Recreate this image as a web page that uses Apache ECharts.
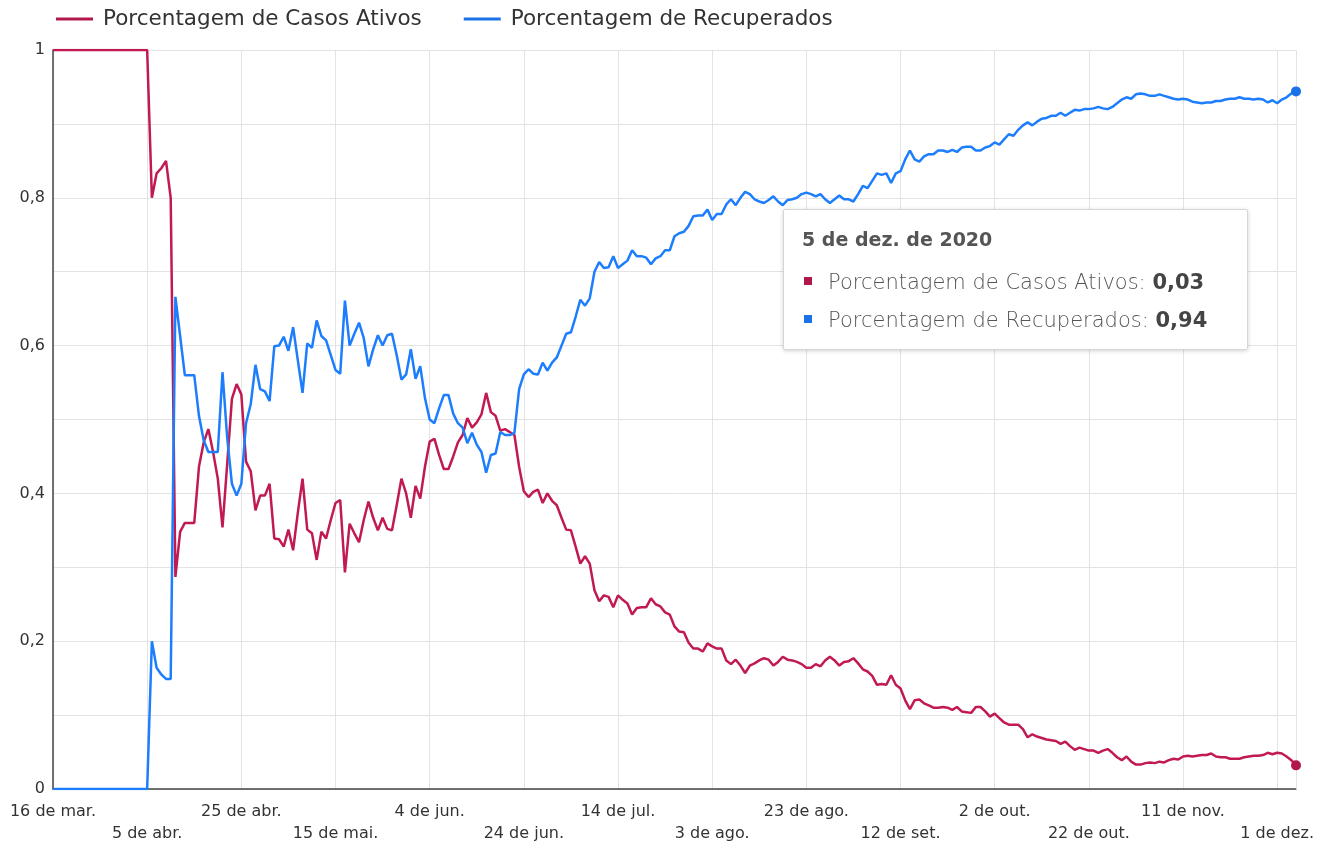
<!DOCTYPE html>
<html>
<head>
<meta charset="utf-8">
<title>Casos ativos e recuperados</title>
<script src="https://cdn.jsdelivr.net/npm/echarts@6/dist/echarts.min.js"></script>
<style>
  html, body { margin: 0; padding: 0; background: #fff; }
  #chart { width: 1327px; height: 845px; }
</style>
</head>
<body>
<div id="chart"></div>
<script>
// daily values from 16 mar. 2020 to 5 dez. 2020
const monthAbbr = ['jan.', 'fev.', 'mar.', 'abr.', 'mai.', 'jun.', 'jul.', 'ago.', 'set.', 'out.', 'nov.', 'dez.'];

const ativos = [
  1, 1, 1, 1, 1, 1, 1, 1, 1, 1, 1, 1, 1, 1, 1, 1, 1, 1, 1, 1,
  1, 0.80, 0.833, 0.84, 0.85, 0.80, 0.287, 0.348, 0.36, 0.36,
  0.36, 0.436, 0.469, 0.487, 0.456, 0.42, 0.354, 0.44, 0.528, 0.548,
  0.534, 0.443, 0.43, 0.377, 0.397, 0.397, 0.413, 0.339, 0.338, 0.328,
  0.351, 0.323, 0.374, 0.42, 0.351, 0.346, 0.31, 0.348, 0.339, 0.364,
  0.387, 0.391, 0.293, 0.359, 0.346, 0.334, 0.364, 0.389, 0.367, 0.35,
  0.367, 0.352, 0.35, 0.384, 0.42, 0.4, 0.367, 0.41, 0.393, 0.436,
  0.47, 0.474, 0.452, 0.433, 0.433, 0.45, 0.469, 0.479, 0.502, 0.489,
  0.496, 0.507, 0.536, 0.51, 0.505, 0.485, 0.487, 0.483, 0.479, 0.436,
  0.403, 0.395, 0.402, 0.405, 0.387, 0.4, 0.39, 0.384, 0.367, 0.351,
  0.35, 0.328, 0.305, 0.315, 0.305, 0.269, 0.254, 0.262, 0.26, 0.246,
  0.262, 0.256, 0.251, 0.236, 0.245, 0.246, 0.246, 0.258, 0.25, 0.247,
  0.239, 0.236, 0.22, 0.213, 0.212, 0.198, 0.19, 0.19, 0.186, 0.197,
  0.193, 0.19, 0.19, 0.174, 0.169, 0.175, 0.167, 0.157, 0.167, 0.17,
  0.174, 0.177, 0.175, 0.167, 0.172, 0.179, 0.175, 0.174, 0.172, 0.169,
  0.164, 0.164, 0.169, 0.166, 0.174, 0.179, 0.174, 0.167, 0.172, 0.173,
  0.177, 0.17, 0.162, 0.159, 0.153, 0.141, 0.142, 0.141, 0.154, 0.141,
  0.136, 0.12, 0.108, 0.12, 0.121, 0.116, 0.113, 0.11, 0.11, 0.111,
  0.11, 0.107, 0.111, 0.105, 0.104, 0.103, 0.111, 0.111, 0.105, 0.098,
  0.102, 0.096, 0.09, 0.087, 0.087, 0.087, 0.081, 0.07, 0.074, 0.071,
  0.069, 0.067, 0.066, 0.065, 0.061, 0.064, 0.058, 0.053, 0.056, 0.054,
  0.052, 0.052, 0.049, 0.052, 0.054, 0.049, 0.043, 0.039, 0.044, 0.037,
  0.033, 0.033, 0.035, 0.036, 0.035, 0.037, 0.036, 0.039, 0.041, 0.04,
  0.044, 0.045, 0.044, 0.045, 0.046, 0.046, 0.048, 0.044, 0.043, 0.043,
  0.041, 0.041, 0.041, 0.043, 0.044, 0.045, 0.045, 0.046, 0.049, 0.047,
  0.049, 0.048, 0.044, 0.039, 0.032
];

const recuperados = [
  0, 0, 0, 0, 0, 0, 0, 0, 0, 0, 0, 0, 0, 0, 0, 0, 0, 0, 0, 0,
  0, 0.20, 0.164, 0.155, 0.149, 0.149, 0.666, 0.613, 0.56, 0.56,
  0.56, 0.505, 0.472, 0.456, 0.456, 0.456, 0.564, 0.475, 0.413, 0.397,
  0.413, 0.495, 0.521, 0.574, 0.541, 0.538, 0.525, 0.599, 0.6, 0.612,
  0.593, 0.625, 0.58, 0.536, 0.603, 0.597, 0.634, 0.613, 0.607, 0.587,
  0.567, 0.562, 0.661, 0.6, 0.616, 0.631, 0.61, 0.572, 0.595, 0.614,
  0.6, 0.614, 0.616, 0.587, 0.554, 0.561, 0.595, 0.555, 0.572, 0.529,
  0.5, 0.495, 0.515, 0.533, 0.533, 0.508, 0.495, 0.489, 0.468, 0.482,
  0.466, 0.456, 0.428, 0.452, 0.454, 0.483, 0.479, 0.479, 0.482, 0.541,
  0.561, 0.568, 0.562, 0.561, 0.577, 0.566, 0.577, 0.584, 0.6, 0.616,
  0.618, 0.639, 0.662, 0.654, 0.664, 0.7, 0.713, 0.705, 0.706, 0.721,
  0.705, 0.71, 0.715, 0.729, 0.721, 0.721, 0.719, 0.71, 0.718, 0.721,
  0.729, 0.729, 0.748, 0.752, 0.754, 0.762, 0.775, 0.776, 0.776, 0.784,
  0.77, 0.778, 0.778, 0.791, 0.798, 0.79, 0.8, 0.808, 0.805, 0.798,
  0.795, 0.793, 0.797, 0.802, 0.795, 0.79, 0.797, 0.798, 0.8, 0.805,
  0.807, 0.805, 0.802, 0.805, 0.798, 0.793, 0.798, 0.803, 0.798, 0.798,
  0.795, 0.805, 0.816, 0.813, 0.823, 0.833, 0.831, 0.833, 0.82, 0.833,
  0.836, 0.852, 0.864, 0.852, 0.849, 0.856, 0.859, 0.859, 0.864, 0.864,
  0.862, 0.865, 0.862, 0.868, 0.869, 0.869, 0.864, 0.864, 0.868, 0.87,
  0.875, 0.872, 0.879, 0.886, 0.884, 0.892, 0.898, 0.902, 0.898, 0.903,
  0.907, 0.908, 0.911, 0.911, 0.915, 0.911, 0.915, 0.919, 0.918, 0.92,
  0.92, 0.921, 0.923, 0.921, 0.92, 0.923, 0.928, 0.933, 0.936, 0.934,
  0.94, 0.941, 0.94, 0.938, 0.938, 0.94, 0.938, 0.936, 0.934, 0.933,
  0.934, 0.933, 0.93, 0.929, 0.928, 0.929, 0.929, 0.931, 0.931, 0.933,
  0.934, 0.934, 0.936, 0.934, 0.934, 0.933, 0.934, 0.933, 0.929, 0.932,
  0.928, 0.933, 0.936, 0.941, 0.944
];

// category labels: one per day
const dias = [];
const titulos = [];
for (let i = 0; i < ativos.length; i++) {
  const d = new Date(Date.UTC(2020, 2, 16 + i));
  dias.push(d.getUTCDate() + ' de ' + monthAbbr[d.getUTCMonth()]);
  titulos.push(d.getUTCDate() + ' de ' + monthAbbr[d.getUTCMonth()] + ' de ' + d.getUTCFullYear());
}

const RED = '#b0184b';
const BLUE = '#1a72e6';
const FONT = '"DejaVu Sans", sans-serif';
const CSS_FONT = "'DejaVu Sans', sans-serif";

const fmt = (v) => v.toFixed(2).replace('.', ',');

const option = {
  animation: false,
  textStyle: { fontFamily: FONT },
  color: [RED, BLUE],
  grid: { left: 53, right: 31, top: 50, bottom: 51 },
  legend: {
    left: 56,
    top: 8,
    padding: 0,
    itemWidth: 37,
    itemHeight: 3,
    itemGap: 42,
    icon: 'rect',
    textStyle: { fontSize: 21.5, color: '#333', fontFamily: FONT, padding: [0, 0, 0, 5] },
    data: ['Porcentagem de Casos Ativos', 'Porcentagem de Recuperados']
  },
  tooltip: {
    trigger: 'axis',
    triggerOn: 'none',
    alwaysShowContent: true,
    position: [783, 209],
    padding: [19, 40, 10, 18],
    backgroundColor: '#fff',
    borderColor: '#d6d6d6',
    borderWidth: 1,
    extraCssText: 'box-shadow: 0 1px 4px rgba(0,0,0,0.18); border-radius: 2px;',
    axisPointer: { type: 'line', z: 1, lineStyle: { color: '#e3e3e3', width: 1, type: 'solid' } },
    formatter: (params) => {
      const idx = params[0].dataIndex;
      let s = '<div style="font-family:' + CSS_FONT + ';font-weight:700;font-size:19px;color:#555;margin-bottom:13px;">' + titulos[idx] + '</div>';
      params.forEach((p) => {
        s += '<div style="font-family:' + CSS_FONT + ';font-size:21px;line-height:38px;color:#555;font-weight:200;">' +
          '<span style="display:inline-block;width:8px;height:8px;background:' + p.color + ';margin:0 16px 4px 2px;"></span>' +
          p.seriesName + ': <b style="color:#444;font-weight:700;">' + fmt(p.value) + '</b></div>';
      });
      return s;
    }
  },
  xAxis: {
    type: 'category',
    boundaryGap: false,
    data: dias,
    axisLine: { lineStyle: { color: '#444', width: 1.5 } },
    axisTick: { show: false },
    axisLabel: {
      interval: 19,
      color: '#333',
      fontSize: 16,
      lineHeight: 22,
      margin: 12,
      formatter: (v, i) => ((i / 20) % 2 === 1 ? '\n' + v : v)
    },
    splitLine: { show: true, interval: 19, lineStyle: { color: '#e3e3e3', width: 1 } }
  },
  yAxis: {
    type: 'value',
    min: 0,
    max: 1,
    interval: 0.1,
    axisLine: { show: true, lineStyle: { color: '#444', width: 1.5 } },
    axisTick: { show: false },
    axisLabel: {
      color: '#333',
      fontSize: 16,
      margin: 8,
      formatter: (v) => (Math.round(v * 10) % 2 === 0 ? String(Math.round(v * 10) / 10).replace('.', ',') : '')
    },
    splitLine: { lineStyle: { color: '#e3e3e3', width: 1 } }
  },
  series: [
    {
      name: 'Porcentagem de Casos Ativos',
      type: 'line',
      data: ativos,
      showSymbol: false,
      symbol: 'circle',
      symbolSize: 10,
      lineStyle: { color: RED, width: 2.5 },
      itemStyle: { color: RED, borderWidth: 0 },
      emphasis: { scale: false, lineStyle: { width: 2.5 }, itemStyle: { color: RED, borderWidth: 0 } }
    },
    {
      name: 'Porcentagem de Recuperados',
      type: 'line',
      data: recuperados,
      showSymbol: false,
      symbol: 'circle',
      symbolSize: 10,
      lineStyle: { color: BLUE, width: 2.5 },
      itemStyle: { color: BLUE, borderWidth: 0 },
      emphasis: { scale: false, lineStyle: { width: 2.5 }, itemStyle: { color: BLUE, borderWidth: 0 } }
    }
  ]
};

const chart = echarts.init(document.getElementById('chart'));
chart.setOption(option);
chart.dispatchAction({ type: 'showTip', seriesIndex: 0, dataIndex: ativos.length - 1 });
</script>
</body>
</html>
